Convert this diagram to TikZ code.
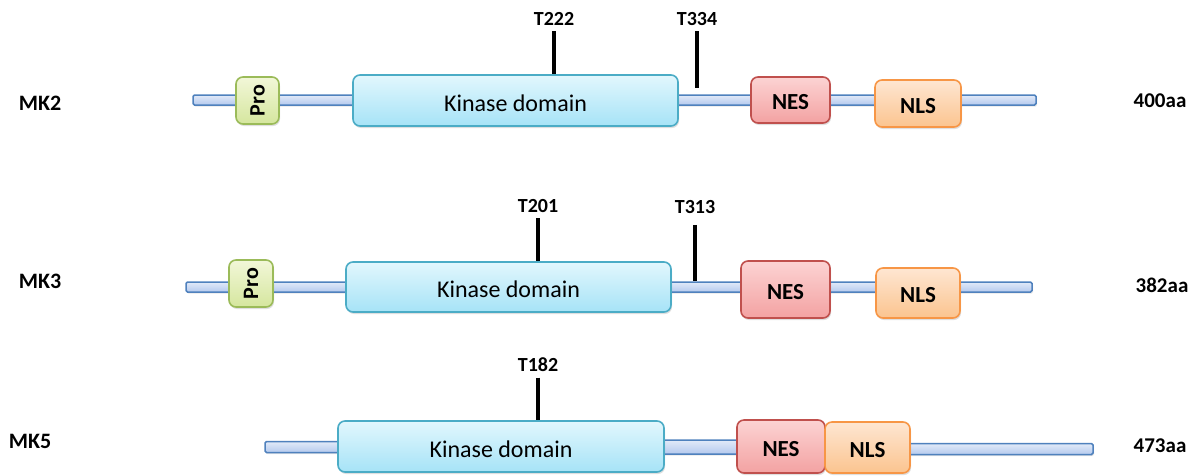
\documentclass[tikz,border=0pt]{standalone}
\usepackage{fontspec}
\setmainfont{Carlito}
\usetikzlibrary{shadows}
\definecolor{bbdraw}{HTML}{4F81BD}
\definecolor{bbtop}{HTML}{E2EAF8}
\definecolor{bbbot}{HTML}{B4C9EE}
\definecolor{kindraw}{HTML}{4BACC6}
\definecolor{kintop}{HTML}{E2F7FD}
\definecolor{kinbot}{HTML}{A6E3F7}
\definecolor{prodraw}{HTML}{9BBB59}
\definecolor{protop}{HTML}{F2F7D8}
\definecolor{probot}{HTML}{D5E69E}
\definecolor{nesdraw}{HTML}{C0504D}
\definecolor{nestop}{HTML}{FCD3D3}
\definecolor{nesbot}{HTML}{F3A2A2}
\definecolor{nlsdraw}{HTML}{F79646}
\definecolor{nlstop}{HTML}{FEE6D2}
\definecolor{nlsbot}{HTML}{FBC48F}
\begin{document}
\begin{tikzpicture}[x=1pt,y=-1pt,
  box/.style={draw, line width=1.6pt, rounded corners=7pt, inner sep=0pt,
    text height=19pt, text depth=0pt,
    font=\fontsize{24}{28}\selectfont,
    drop shadow={opacity=0.25,shadow xshift=1pt,shadow yshift=-2pt}},
  kin/.style={box, draw=kindraw, top color=kintop, bottom color=kinbot, text height=21pt},
  pro/.style={box, draw=prodraw, top color=protop, bottom color=probot, text height={}, font=\bfseries\fontsize{22}{26}\selectfont},
  nes/.style={box, draw=nesdraw, top color=nestop, bottom color=nesbot, font=\bfseries\fontsize{23}{27}\selectfont},
  nls/.style={box, draw=nlsdraw, top color=nlstop, bottom color=nlsbot, font=\bfseries\fontsize{23}{27}\selectfont},
  bbar/.style={draw=bbdraw, line width=1.5pt, top color=bbtop, bottom color=bbbot,
    inner sep=0pt, minimum height=10pt, rounded corners=1.5pt,
    drop shadow={opacity=0.2,shadow xshift=1pt,shadow yshift=-1.5pt}},
  tick/.style={line width=4.5pt, black},
  site/.style={font=\bfseries\fontsize{20}{24}\selectfont, inner sep=0pt},
  prot/.style={font=\bfseries\fontsize{22}{26}\selectfont, inner sep=0pt},
  len/.style={font=\bfseries\fontsize{21}{25}\selectfont, inner sep=0pt}]
\useasboundingbox (0,0) rectangle (1198,475);

% ---------- MK2 ----------
\node[prot] (mk2) at (40,103) {MK2};
\node[bbar, minimum width=843pt] (bb2) at (614.5,100) {};
\node[pro, minimum width=43pt, minimum height=47pt] (pro2) at (257.5,100.5) {\rotatebox{90}{Pro}};
\node[kin, minimum width=325pt, minimum height=51pt] (kin2) at (515.5,100.5) {Kinase domain};
\node[nes, minimum width=79pt, minimum height=46pt] (nes2) at (790.5,100) {NES};
\node[nls, minimum width=86pt, minimum height=47pt] (nls2) at (918,103.5) {NLS};
\node[site] (t222) at (554,19) {T222};
\draw[tick] ([yshift=-5.5pt]t222.south) -- (t222.south |- kin2.north);
\node[site] (t334) at (697,19) {T334};
\coordinate (e334) at (697,88);
\draw[tick] ([yshift=-5.5pt]t334.south) -- (e334);
\node[len] (aa2) at (1160,101) {400aa};

% ---------- MK3 ----------
\node[prot] (mk3) at (40,281) {MK3};
\node[bbar, minimum width=846pt] (bb3) at (609,287) {};
\node[pro, minimum width=44pt, minimum height=47pt] (pro3) at (251,283.5) {\rotatebox{90}{Pro}};
\node[kin, minimum width=325pt, minimum height=50pt] (kin3) at (508.5,287) {Kinase domain};
\node[nes, minimum width=89pt, minimum height=57pt] (nes3) at (785.5,289.5) {NES};
\node[nls, minimum width=84pt, minimum height=50pt] (nls3) at (918,293) {NLS};
\node[site] (t201) at (538,206) {T201};
\draw[tick] ([yshift=-5.5pt]t201.south) -- (t201.south |- kin3.north);
\node[site] (t313) at (695,207) {T313};
\coordinate (e313) at (695,281);
\draw[tick] ([yshift=-11pt]t313.south) -- (e313);
\node[len] (aa3) at (1162,285) {382aa};

% ---------- MK5 ----------
\node[prot] (mk5) at (30,441) {MK5};
\node[bbar, minimum width=80pt, minimum height=11pt] (bb5a) at (305,447) {};
\node[bbar, minimum width=80pt, minimum height=14pt] (bb5b) at (700,447) {};
\node[bbar, minimum width=188pt, minimum height=11pt] (bb5c) at (999,449) {};
\node[kin, minimum width=326pt, minimum height=51pt] (kin5) at (501,446.5) {Kinase domain};
\node[nes, minimum width=88pt, minimum height=53pt] (nes5) at (781,446.5) {NES};
\node[nls, minimum width=85pt, minimum height=51pt] (nls5) at (867.5,447.5) {NLS};
\node[site] (t182) at (538,365) {T182};
\draw[tick] ([yshift=-5.5pt]t182.south) -- (t182.south |- kin5.north);
\node[len] (aa5) at (1160,446) {473aa};
\end{tikzpicture}
\end{document}
